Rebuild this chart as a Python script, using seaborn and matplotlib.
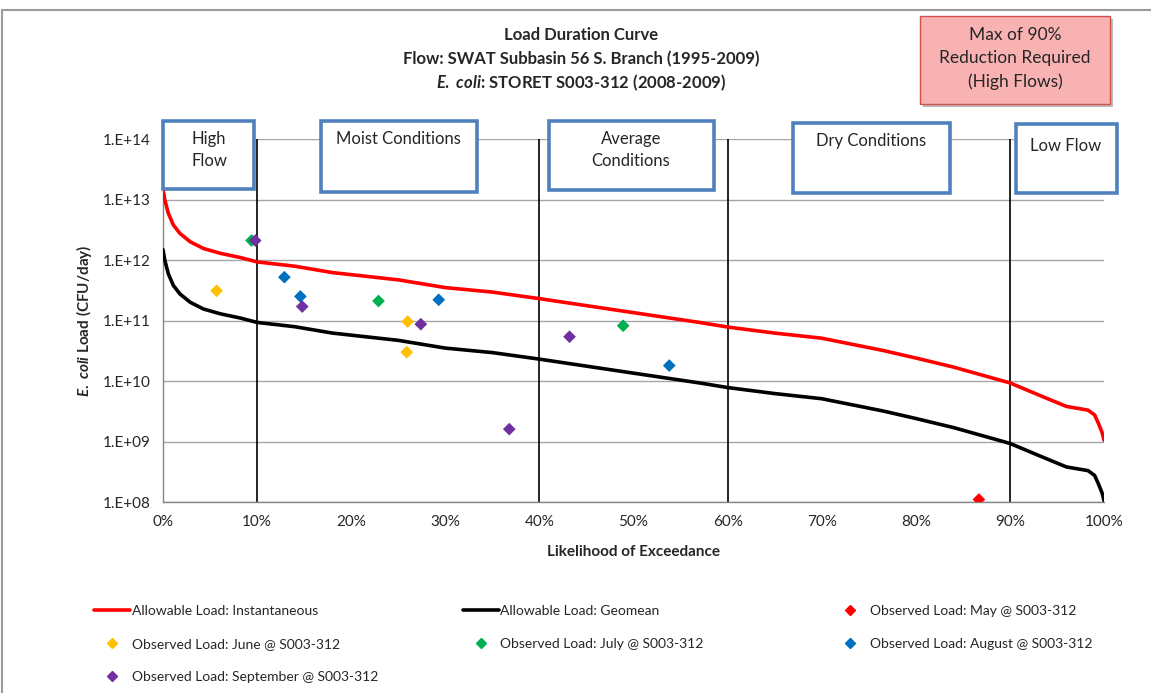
import math
import pandas as pd
import matplotlib
matplotlib.use("Agg")
import matplotlib.pyplot as plt
import matplotlib.patheffects as pe
from matplotlib.lines import Line2D
from matplotlib.patches import Rectangle
from matplotlib.ticker import FixedLocator, FuncFormatter
import seaborn as sns

# Curvas de carga admisible
pct_curva = [0, 0.2, 0.57, 1.1, 1.8, 2.9, 4.3, 6.1, 8.2, 10, 14, 18, 25, 30, 35,
             40, 48, 57, 60, 65, 70, 76.5, 80, 84, 90, 93.5, 96, 98.3, 99.0,
             99.4, 99.8, 100]
carga_inst = [1.48e13, 9.8e12, 5.9e12, 3.8e12, 2.75e12, 2.0e12, 1.55e12, 1.29e12,
              1.1e12, 9.3e11, 7.9e11, 6.2e11, 4.7e11, 3.5e11, 2.95e11,
              2.3e11, 1.5e11, 9.3e10, 7.8e10, 6.2e10, 5.1e10, 3.2e10, 2.4e10,
              1.7e10, 9.3e9, 5.5e9, 3.8e9, 3.3e9, 2.75e9,
              2.0e9, 1.4e9, 1.05e9]
carga_geo = [1.48e12, 9.8e11, 5.9e11, 3.8e11, 2.75e11, 2.0e11, 1.55e11, 1.29e11,
             1.1e11, 9.3e10, 7.9e10, 6.2e10, 4.7e10, 3.5e10, 2.95e10,
             2.3e10, 1.5e10, 9.3e9, 7.8e9, 6.2e9, 5.1e9, 3.2e9, 2.4e9,
             1.7e9, 9.3e8, 5.5e8, 3.8e8, 3.3e8, 2.75e8,
             2.0e8, 1.4e8, 1.05e8]

# Cargas observadas por mes
may_pct = [86.7]
may_carga = [1.1e8]
june_pct = [5.7, 26.0, 25.9]
june_carga = [3.1e11, 9.6e10, 3.0e10]
july_pct = [9.4, 22.9, 48.9]
july_carga = [2.1e12, 2.1e11, 8.2e10]
aug_pct = [12.9, 14.6, 29.3, 53.8]
aug_carga = [5.2e11, 2.5e11, 2.2e11, 1.8e10]
sep_pct = [9.8, 14.8, 27.4, 43.2, 36.8]
sep_carga = [2.1e12, 1.7e11, 8.7e10, 5.4e10, 1.6e9]

meses = ["May", "June", "July", "August", "September"]
colores_mes = ["#FF0000", "#FFC000", "#00B050", "#0070C0", "#7030A0"]

limites_zona = [10, 40, 60, 90]
x_ticks = [0, 10, 20, 30, 40, 50, 60, 70, 80, 90, 100]
y_ticks = [1e8, 1e9, 1e10, 1e11, 1e12, 1e13, 1e14]

sns.set_style("white")
plt.rcParams["font.family"] = ["Lato", "DejaVu Sans"]
plt.rcParams["mathtext.fontset"] = "custom"
plt.rcParams["mathtext.it"] = "Lato:italic:bold"
plt.rcParams["mathtext.rm"] = "Lato:bold"

df_curvas = pd.DataFrame({
    "pct": pct_curva * 2,
    "carga": carga_inst + carga_geo,
    "serie": ["inst"] * len(pct_curva) + ["geo"] * len(pct_curva),
})
df_obs = pd.DataFrame({
    "pct": may_pct + june_pct + july_pct + aug_pct + sep_pct,
    "carga": may_carga + june_carga + july_carga + aug_carga + sep_carga,
    "mes": (["May"] * len(may_pct) + ["June"] * len(june_pct) + ["July"] * len(july_pct)
            + ["August"] * len(aug_pct) + ["September"] * len(sep_pct)),
})

fig = plt.figure(figsize=(11.51, 6.93), dpi=100)
ax = fig.add_axes([0.1416, 0.2756, 0.8176, 0.5238])

ax.vlines(limites_zona, 1e8, 1e14, color="black", linewidth=1.2, zorder=2)
sns.lineplot(data=df_curvas, x="pct", y="carga", hue="serie",
             palette={"inst": "#FF0000", "geo": "black"}, linewidth=2.6,
             legend=False, ax=ax, zorder=3, sort=False, estimator=None)
sns.scatterplot(data=df_obs, x="pct", y="carga", hue="mes",
                palette=dict(zip(meses, colores_mes)), marker="D", s=42,
                linewidth=0, legend=False, ax=ax, zorder=4)

ax.set_yscale("log")
ax.set_ylim(1e8, 1e14)
ax.set_xlim(0, 100)
ax.yaxis.set_major_locator(FixedLocator(y_ticks))
ax.yaxis.set_minor_locator(FixedLocator([]))
ax.yaxis.set_major_formatter(FuncFormatter(lambda v, p: "1.E+%02d" % round(math.log10(v))))
ax.set_xticks(x_ticks)
ax.set_xticklabels([f"{t}%" for t in x_ticks])
ax.grid(axis="y", color="#A6A6A6", linewidth=1)
ax.tick_params(axis="both", labelsize=11, labelcolor="#262626", color="#868686",
               length=5, width=1, direction="out", pad=4)
for lado in ["top", "right"]:
    ax.spines[lado].set_visible(False)
for lado in ["left", "bottom"]:
    ax.spines[lado].set_color("#868686")
    ax.spines[lado].set_linewidth(1)
ax.set_xlabel("Likelihood of Exceedance", fontsize=11, fontweight="bold", labelpad=12)
ax.set_ylabel(r"$\it{E.\ coli}$ Load (CFU/day)", fontsize=11, fontweight="bold", labelpad=6)

# Título
fig.text(0.505, 0.950, "Load Duration Curve", ha="center", va="center",
         fontsize=12, fontweight="bold")
fig.text(0.505, 0.915, "Flow: SWAT Subbasin 56 S. Branch (1995-2009)", ha="center",
         va="center", fontsize=12, fontweight="bold")
fig.text(0.505, 0.881, r"$\it{E.\ coli}$: STORET S003-312 (2008-2009)", ha="center",
         va="center", fontsize=12, fontweight="bold")

# Recuadro de reducción
caja = Rectangle((0.7993, 0.8499), 0.1651, 0.127, transform=fig.transFigure,
                 facecolor="#F8B2B2", edgecolor="#D0504D", linewidth=1,
                 path_effects=[pe.SimplePatchShadow(offset=(2, -2), alpha=0.35), pe.Normal()])
fig.add_artist(caja)
fig.text(0.8818, 0.9495, "Max of 90%", ha="center", va="center", fontsize=12.5)
fig.text(0.8818, 0.9163, "Reduction Required", ha="center", va="center", fontsize=12.5)
fig.text(0.8818, 0.8817, "(High Flows)", ha="center", va="center", fontsize=12.5)

# Cajas de zonas hidrológicas
zonas = [
    ((0.1416, 0.7273, 0.0791, 0.0981), "High\nFlow", (0.1816, 0.784)),
    ((0.2789, 0.7229, 0.1355, 0.1025), "Moist Conditions", (0.3466, 0.800)),
    ((0.4770, 0.7258, 0.1434, 0.0996), "Average\nConditions", (0.5482, 0.784)),
    ((0.6890, 0.7215, 0.1364, 0.1010), "Dry Conditions", (0.7567, 0.797)),
    ((0.8827, 0.7215, 0.0877, 0.0996), "Low Flow", (0.9262, 0.790)),
]
for (x0, y0, w, h), texto, (tx, ty) in zonas:
    fig.add_artist(Rectangle((x0, y0), w, h, transform=fig.transFigure,
                             facecolor="white", edgecolor="#4F81BD",
                             linewidth=2.6, zorder=5))
    fig.text(tx, ty, texto, ha="center", va="center", fontsize=12,
             linespacing=1.45, zorder=6)

# Leyenda en tres columnas
h_inst = Line2D([], [], color="#FF0000", linewidth=2.6)
h_geo = Line2D([], [], color="black", linewidth=2.6)
h_mes = {m: Line2D([], [], color=c, marker="D", linestyle="none", markersize=5)
         for m, c in zip(meses, colores_mes)}
columnas = [
    ([h_inst, h_mes["June"], h_mes["September"]],
     ["Allowable Load: Instantaneous", "Observed Load: June @ S003-312",
      "Observed Load: September @ S003-312"], 0.082),
    ([h_geo, h_mes["July"]],
     ["Allowable Load: Geomean", "Observed Load: July @ S003-312"], 0.402),
    ([h_mes["May"], h_mes["August"]],
     ["Observed Load: May @ S003-312", "Observed Load: August @ S003-312"], 0.723),
]
for handles, labels, x0 in columnas:
    fig.legend(handles, labels, loc="upper left", bbox_to_anchor=(x0, 0.127),
               frameon=False, fontsize=10, handlelength=2.6, handletextpad=0.1,
               labelspacing=1.5, borderaxespad=0, borderpad=0)

# Marco exterior
fig.add_artist(Rectangle((0.002, -0.01), 1.01, 1.005 - 0.01, transform=fig.transFigure,
                         facecolor="none", edgecolor="#9A9A9A", linewidth=1.5))

fig.savefig("out.png", dpi=100)
